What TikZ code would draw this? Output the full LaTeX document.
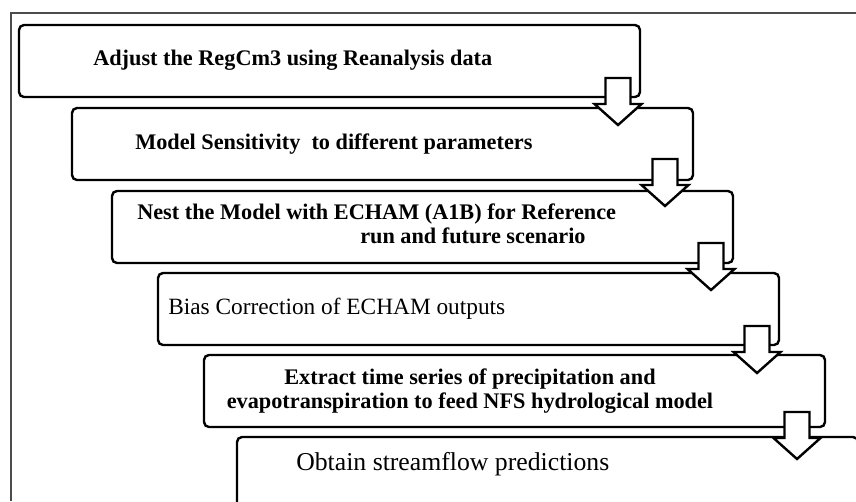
\documentclass[tikz,border=0pt]{standalone}
\usepackage{fontspec}
\setmainfont{Liberation Serif}

\tikzset{
  stage/.style={draw, line width=1.8pt, rounded corners=3.75pt, anchor=north west,
    minimum width=465.75pt, minimum height=54pt, inner sep=0pt, outer sep=0pt},
  stagetext/.style={anchor=base west, inner sep=0pt,
    font=\fontsize{16.7}{20}\selectfont\bfseries},
  plaintext/.style={anchor=base west, inner sep=0pt},
  flowarrow/.style={draw, fill=white, line width=1.8pt, line join=miter}
}

\begin{document}
\begin{tikzpicture}[x=0.75pt,y=-0.75pt]
\useasboundingbox (0,0) rectangle (856,501);

% frame
\draw[black!70, line width=1pt] (11,501) -- (11,13) -- (856,13);

% boxes
\node[stage] (b1) at (19,25) {};
\node[stage] (b2) at (72,108) {};
\node[stage] (b3) at (112,191) {};
\node[stage] (b4) at (158,273) {};
\node[stage] (b5) at (204,355) {};
\node[stage] (b6) at (237,437) {};

% texts
\node[stagetext] (t1) at (93,65) {Adjust the RegCm3 using Reanalysis data};
\node[stagetext] (t2) at (135,149) {Model Sensitivity~ to different parameters};
\node[stagetext] (t3) at (137,219) {Nest the Model with ECHAM (A1B) for Reference};
\node[stagetext] (t3b) at (360,243) {run and future scenario};
\node[plaintext, font=\fontsize{17.5}{20}\selectfont] (t4) at (168,314) {Bias Correction of ECHAM outputs};
\node[stagetext, anchor=base] (t5) at (470,384) {Extract time series of precipitation and};
\node[stagetext, anchor=base] (t5b) at (470,408) {evapotranspiration to feed NFS hydrological model};
\node[plaintext, font=\fontsize{19.3}{22}\selectfont] (t6) at (296,470) {Obtain streamflow predictions};

% arrows
\foreach \b/\dx/\dy in {b1/-22/-19, b2/-28/-21, b3/-22/-20, b4/-22/-19, b5/-28/-15}
  \draw[flowarrow] (\b.south east) ++(\dx,\dy) ++(-12.5,0) -- ++(0,26) -- ++(-11,0)
    -- ++(23.5,21) -- ++(23.5,-21) -- ++(-11,0) -- ++(0,-26) -- cycle;
\end{tikzpicture}
\end{document}
